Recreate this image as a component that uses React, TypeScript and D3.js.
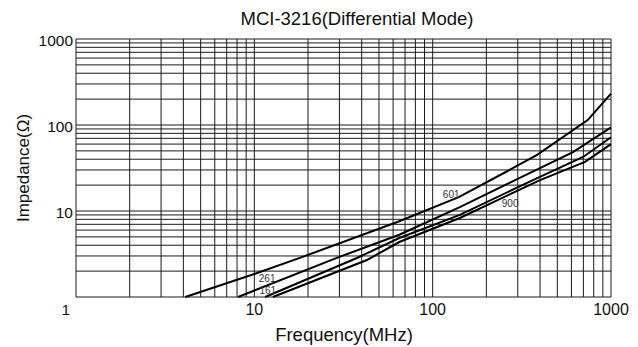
import { line, range, scaleLog } from "d3";

// impedance curves, frequency in MHz / impedance in ohm
const curveTopFreq = [4.1, 10, 18, 65, 140, 270, 385, 740, 1000];
const curveTopZ = [1, 1.85, 2.85, 7.6, 14.5, 30, 45, 114, 232];
const curveSecondFreq = [8.1, 29, 65, 142, 290, 612, 1000];
const curveSecondZ = [1, 2.85, 5.3, 11.1, 22.9, 48.5, 94];
const curveThirdFreq = [11.5, 37.6, 65, 142, 365, 697, 1000];
const curveThirdZ = [1, 2.84, 4.85, 9, 22.9, 42.5, 72];
const curveFourthFreq = [12.7, 42.8, 65, 142, 400, 715, 1000];
const curveFourthZ = [1, 2.69, 4.36, 8.3, 22.9, 37.2, 60];

const partLabels = ["601", "900", "261", "161"];
const partLabelFreq = [127, 272, 11.8, 11.9];
const partLabelZ = [15.6, 12.3, 1.66, 1.2];

const xTickLabels = ["10", "100", "1000"];
const yTickLabels = ["10", "100", "1000"];

const W = 638;
const H = 347;
const margin = { top: 39, right: 27, bottom: 50, left: 76 };

export default function App() {
  const x = scaleLog().domain([1, 1000]).range([margin.left, W - margin.right]);
  const y = scaleLog().domain([1, 1000]).range([H - margin.bottom, margin.top]);

  const gridVals: number[] = [];
  for (const d of [1, 10, 100]) {
    for (const m of range(1, 10)) gridVals.push(d * m);
  }
  gridVals.push(1000);

  const series = [
    { f: curveTopFreq, z: curveTopZ },
    { f: curveSecondFreq, z: curveSecondZ },
    { f: curveThirdFreq, z: curveThirdZ },
    { f: curveFourthFreq, z: curveFourthZ },
  ];

  const path = line<[number, number]>()
    .x((d) => x(d[0]))
    .y((d) => y(d[1]));

  const font = "'Liberation Sans', Arial, Helvetica, sans-serif";

  return (
    <svg
      width={W}
      height={H}
      style={{ position: "absolute", left: 0, top: 0, background: "#fff" }}
      fontFamily={font}
    >
      <text x={357} y={25} textAnchor="middle" fontSize={18.5} fill="#111">
        MCI-3216(Differential Mode)
      </text>

      <g stroke="#1a1a1a" strokeWidth={1}>
        {gridVals.map((v) => (
          <line key={"v" + v} x1={x(v)} x2={x(v)} y1={y(1)} y2={y(1000)} />
        ))}
        {gridVals.map((v) => (
          <line key={"h" + v} x1={x(1)} x2={x(1000)} y1={y(v)} y2={y(v)} />
        ))}
      </g>

      <g fill="none" stroke="#000" strokeWidth={2}>
        {series.map((s, i) => (
          <path key={i} d={path(s.f.map((f, j) => [f, s.z[j]] as [number, number])) ?? ""} />
        ))}
      </g>

      <g fontSize={10} fill="#333" textAnchor="middle">
        {partLabels.map((t, i) => (
          <text key={t} x={x(partLabelFreq[i])} y={y(partLabelZ[i])} dy="0.35em">
            {t}
          </text>
        ))}
      </g>

      <g fontSize={15.5} fill="#111" textAnchor="end">
        {yTickLabels.map((t) => (
          <text key={t} x={73} y={y(+t) + 2} dy="0.35em">
            {t}
          </text>
        ))}
        <text x={70} y={315}>1</text>
      </g>

      <g fontSize={16} fill="#111" textAnchor="middle">
        {xTickLabels.map((t) => (
          <text key={t} x={x(+t)} y={315}>
            {t}
          </text>
        ))}
      </g>

      <text x={344} y={341} textAnchor="middle" fontSize={18.5} fill="#111">
        Frequency(MHz)
      </text>
      <text
        transform={`translate(29,${(y(1) + y(1000)) / 2}) rotate(-90)`}
        textAnchor="middle"
        fontSize={17}
        fill="#111"
      >
        Impedance(Ω)
      </text>
    </svg>
  );
}
